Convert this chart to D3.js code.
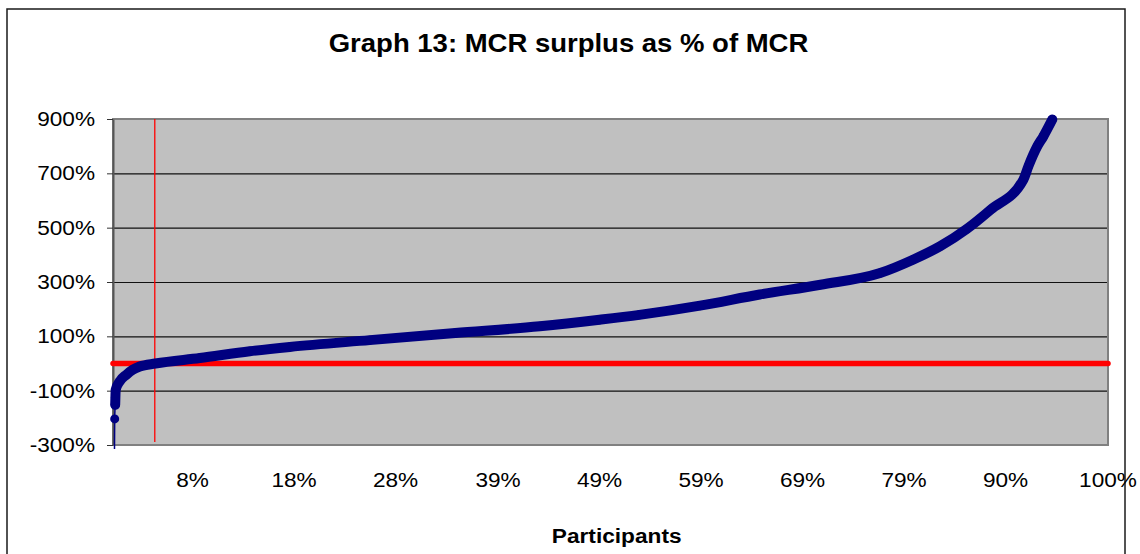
<!DOCTYPE html>
<html>
<head>
<meta charset="utf-8">
<script src="https://cdn.jsdelivr.net/npm/d3@7"></script>
<style>
  body { margin: 0; background: #fff; }
  text { font-family: Arial, "Liberation Sans", sans-serif; fill: #000; }
</style>
</head>
<body>
<div class="board"></div>
<script>
(function() {

  // participants, sorted by surplus: share of participants (%) and MCR surplus (% of MCR)
  var shareOfParticipants = [0.15, 0.17, 0.22, 0.24, 0.27, 0.67, 1.35, 1.98, 2.69, 4.26,
    8.72, 13.75, 17.77, 25.8, 34.4, 42.9, 48.9, 52.9, 59.0, 65.0, 71.1, 77.1,
    80.4, 83.1, 85.8, 88.2, 91.5, 92.0, 92.9, 93.5, 94.4];
  var surplusPct = [-315, -204, -152, -126, -97, -66, -41, -23, -11, 0,
    20, 45, 61, 86, 112, 137, 161, 179, 213, 254, 290, 333,
    382, 431, 495, 566, 677, 726, 800, 836, 898];

  // the 0% reference series and the break-even participant
  var zeroShare = [0, 100];
  var zeroValue = [0, 0];
  var breakEvenShare = 4.2;

  var yTicks = [-300, -100, 100, 300, 500, 700, 900];
  var xTickShare = [8.0, 18.2, 28.4, 38.7, 48.9, 59.1, 69.3, 79.5, 89.7, 100];
  var xTickLabels = ['8%', '18%', '28%', '39%', '49%', '59%', '69%', '79%', '90%', '100%'];

  var options = { width: 1140, height: 554 };
  var plot = { left: 113, right: 1108, top: 119, bottom: 445 };

  var points = shareOfParticipants.map(function(s, i) { return { share: s, value: surplusPct[i] }; });
  var zeroPoints = zeroShare.map(function(s, i) { return { share: s, value: zeroValue[i] }; });

  var x = d3.scaleLinear().domain([0, 100]).range([plot.left, plot.right]);
  var y = d3.scaleLinear().domain([-300, 900]).range([plot.bottom, plot.top]);

  var board = d3.select('.board')
    .append('svg')
    .attr('width', options.width)
    .attr('height', options.height);

  // outer chart frame
  board.append('rect')
    .attr('x', 7).attr('y', 9)
    .attr('width', 1118).attr('height', 560)
    .style('fill', '#fff')
    .style('stroke', '#1a1a1a')
    .style('stroke-width', 1.5);

  // plot area
  board.append('rect')
    .attr('x', plot.left).attr('y', plot.top)
    .attr('width', plot.right - plot.left).attr('height', plot.bottom - plot.top)
    .style('fill', '#c0c0c0');

  // gridlines
  var grid = board.append('g')
    .attr('transform', 'translate(' + plot.left + ',0)')
    .call(d3.axisLeft(y).tickValues(yTicks).tickSize(-(plot.right - plot.left)).tickFormat(''));
  grid.select('.domain').remove();
  grid.selectAll('line').style('stroke', '#111').style('stroke-width', 1.1);

  // plot border
  board.append('rect')
    .attr('x', plot.left).attr('y', plot.top)
    .attr('width', plot.right - plot.left).attr('height', plot.bottom - plot.top)
    .style('fill', 'none')
    .style('stroke', '#808080')
    .style('stroke-width', 2);

  // y axis
  var yAxis = board.append('g')
    .attr('transform', 'translate(' + plot.left + ',0)')
    .call(d3.axisLeft(y).tickValues(yTicks).tickSize(6).tickSizeOuter(0).tickFormat(''));
  yAxis.select('.domain').style('stroke', '#555').style('stroke-width', 2);
  yAxis.selectAll('.tick line').style('stroke', '#333');

  board.selectAll('.ylabel')
    .data(yTicks)
    .enter()
    .append('text')
    .attr('class', 'ylabel')
    .attr('transform', function(d) { return 'translate(95,' + (y(d) + 7) + ') scale(1.16,1)'; })
    .style('font-size', '19.5px')
    .style('text-anchor', 'end')
    .text(function(d) { return d + '%'; });

  board.selectAll('.xlabel')
    .data(xTickShare)
    .enter()
    .append('text')
    .attr('class', 'xlabel')
    .attr('transform', function(d) { return 'translate(' + x(d) + ',487) scale(1.16,1)'; })
    .style('font-size', '19.5px')
    .style('text-anchor', 'middle')
    .text(function(d, i) { return xTickLabels[i]; });

  // 0% line
  var line = d3.line()
    .x(function(d) { return x(d.share); })
    .y(function(d) { return y(d.value); });

  board.append('path')
    .datum(zeroPoints)
    .attr('d', line)
    .style('fill', 'none')
    .style('stroke', '#ff0000')
    .style('stroke-width', 5.5)
    .style('stroke-linecap', 'round');

  // break-even marker
  board.append('line')
    .attr('x1', x(breakEvenShare)).attr('x2', x(breakEvenShare))
    .attr('y1', y(900)).attr('y2', plot.bottom - 3)
    .style('stroke', '#ff0000')
    .style('stroke-width', 1.3);

  // surplus curve
  var curve = d3.line()
    .x(function(d) { return x(d.share); })
    .y(function(d) { return y(d.value); })
    .curve(d3.curveMonotoneX);

  board.append('path')
    .datum(points)
    .attr('d', curve)
    .style('fill', 'none')
    .style('stroke', '#000080')
    .style('stroke-width', 1.5);

  board.append('path')
    .datum(points.slice(2))
    .attr('d', curve)
    .style('fill', 'none')
    .style('stroke', '#000080')
    .style('stroke-width', 10)
    .style('stroke-linecap', 'round')
    .style('stroke-linejoin', 'round');

  board.selectAll('.marker')
    .data(points.slice(1))
    .enter()
    .append('circle')
    .attr('class', 'marker')
    .attr('cx', function(d) { return x(d.share); })
    .attr('cy', function(d) { return y(d.value); })
    .attr('r', 4.5)
    .style('fill', '#000080');

  // titles
  board.append('text')
    .attr('transform', 'translate(568.5,52) scale(1.1,1)')
    .style('font-size', '25px')
    .style('font-weight', 'bold')
    .style('text-anchor', 'middle')
    .text('Graph 13: MCR surplus as % of MCR');

  board.append('text')
    .attr('transform', 'translate(616.7,543.3) scale(1.08,1)')
    .style('font-size', '21px')
    .style('font-weight', 'bold')
    .style('text-anchor', 'middle')
    .text('Participants');

})();
</script>
</body>
</html>
